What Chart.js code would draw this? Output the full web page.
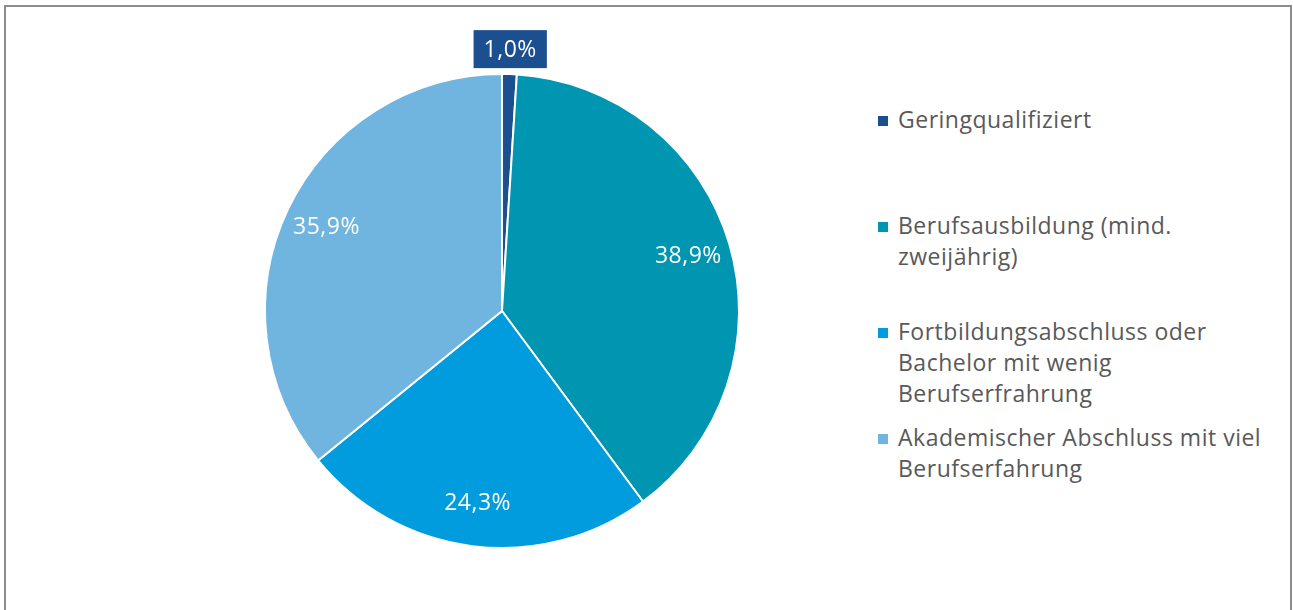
<!DOCTYPE html>
<html>
<head>
<meta charset="utf-8">
<script src="https://cdn.jsdelivr.net/npm/chart.js@4/dist/chart.umd.min.js"></script>
<style>
  html, body { margin: 0; padding: 0; background: #fff; overflow: hidden; }
  body { width: 1293px; height: 610px; position: relative; font-family: "Open Sans", sans-serif; }
  #frame { position: absolute; left: 4px; top: 5px; width: 1288px; height: 620px; border: 2px solid #8c8c8c; box-sizing: border-box; }
  #wrap { position: absolute; left: 202px; top: 11px; width: 600px; height: 600px; }
  #legend { position: absolute; left: 878px; top: 104px; width: 412px; }
  .item { position: relative; height: 106px; padding-left: 20px; color: #595959; font-size: 23px; letter-spacing: 0.5px; line-height: 31px; white-space: nowrap; }
  .item .box { position: absolute; left: 0; top: 12px; width: 10px; height: 10px; }
</style>
</head>
<body>
<div id="frame"></div>
<div id="wrap"><canvas id="pie"></canvas></div>
<div id="legend"></div>
<script>
// Daten
const categories = [
  'Geringqualifiziert',
  'Berufsausbildung (mind. zweijährig)',
  'Fortbildungsabschluss oder Bachelor mit wenig Berufserfrahrung',
  'Akademischer Abschluss mit viel Berufserfahrung'
];
// Zeilenumbruch wie im Original
const legendLines = [
  ['Geringqualifiziert'],
  ['Berufsausbildung (mind.', 'zweijährig)'],
  ['Fortbildungsabschluss oder', 'Bachelor mit wenig', 'Berufserfrahrung'],
  ['Akademischer Abschluss mit viel', 'Berufserfahrung']
];
const shares = [1.0, 38.9, 24.3, 35.9];
const colors = ['#1b4f8f', '#0096b1', '#009cde', '#70b5e0'];

const fmt = v => v.toFixed(1).replace('.', ',') + '%';

// Legende als HTML
const legend = document.getElementById('legend');
categories.forEach((c, i) => {
  const div = document.createElement('div');
  div.className = 'item';
  div.innerHTML = `<span class="box" style="background:${colors[i]}"></span>` + legendLines[i].join('<br>');
  legend.appendChild(div);
});

// Beschriftungen direkt auf die Segmente zeichnen
const labelPlugin = {
  id: 'sliceLabels',
  afterDatasetsDraw(chart) {
    const ctx = chart.ctx;
    const meta = chart.getDatasetMeta(0);
    ctx.save();
    ctx.font = '23px "Open Sans", sans-serif';
    ctx.letterSpacing = '0.5px';
    ctx.textAlign = 'center';
    ctx.textBaseline = 'middle';
    meta.data.forEach((arc, i) => {
      const { x, y, startAngle, endAngle, outerRadius } = arc.getProps(['x', 'y', 'startAngle', 'endAngle', 'outerRadius'], true);
      const mid = (startAngle + endAngle) / 2;
      const text = fmt(shares[i]);
      if (shares[i] < 5) {
        // kleines Segment: Label außerhalb mit Hintergrund
        const d = outerRadius + 25;
        const lx = x + Math.cos(mid) * d;
        const ly = y + Math.sin(mid) * d;
        const w = ctx.measureText(text).width + 20;
        ctx.fillStyle = colors[i];
        ctx.fillRect(lx - w / 2, ly - 19, w, 38);
        ctx.fillStyle = '#fff';
        ctx.fillText(text, lx, ly + 1);
      } else {
        const d = outerRadius * 0.82;
        ctx.fillStyle = '#fff';
        ctx.fillText(text, x + Math.cos(mid) * d, y + Math.sin(mid) * d);
      }
    });
    ctx.restore();
  }
};

new Chart(document.getElementById('pie'), {
  type: 'pie',
  data: {
    labels: categories,
    datasets: [{
      data: shares,
      backgroundColor: colors,
      borderColor: '#ffffff',
      borderWidth: 2
    }]
  },
  options: {
    responsive: true,
    maintainAspectRatio: false,
    animation: false,
    layout: { padding: 62 },
    plugins: {
      legend: { display: false },
      tooltip: { enabled: false }
    }
  },
  plugins: [labelPlugin]
});
</script>
</body>
</html>
